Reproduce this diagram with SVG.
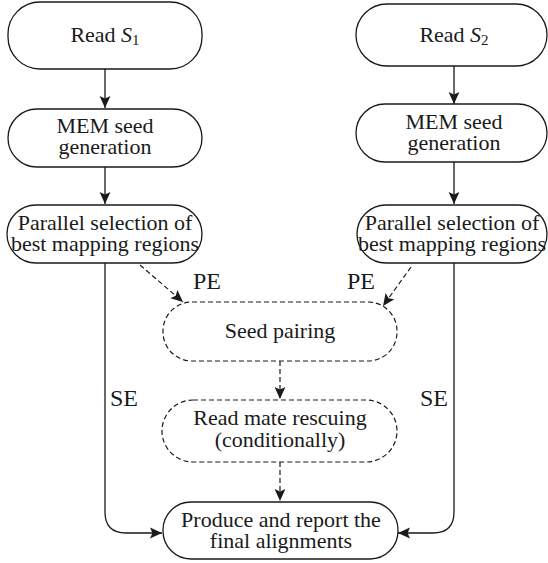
<svg xmlns="http://www.w3.org/2000/svg" width="548" height="563" viewBox="0 0 548 563">
<style>
.box{fill:#fff;stroke:#1a1a1a;stroke-width:1.3}
.dbox{fill:#fff;stroke:#1a1a1a;stroke-width:1.2;stroke-dasharray:5 3}
.t{font-family:'Liberation Serif',serif;font-size:22px;fill:#1a1a1a;text-anchor:middle}
.lbl{font-family:'Liberation Serif',serif;font-size:24px;fill:#1a1a1a}
.c{fill:none;stroke:#1a1a1a;stroke-width:1.3}
.dc{fill:none;stroke:#1a1a1a;stroke-width:1.2;stroke-dasharray:5 3}
</style>
<defs>
<marker id="ah" viewBox="0 0 10 10" refX="10" refY="5" markerWidth="12" markerHeight="12" markerUnits="userSpaceOnUse" orient="auto">
<path d="M0,0.5 L10,5 L0,9.5 L2,5 Z" fill="#1a1a1a"/>
</marker>
</defs>
<g id="connectors">
<line class="c" x1="105" y1="69" x2="105" y2="108" marker-end="url(#ah)"/>
<line class="c" x1="105" y1="167" x2="105" y2="204" marker-end="url(#ah)"/>
<line class="c" x1="454" y1="66" x2="454" y2="104" marker-end="url(#ah)"/>
<line class="c" x1="454" y1="162" x2="454" y2="204" marker-end="url(#ah)"/>
<line class="dc" x1="140" y1="265" x2="183" y2="302" marker-end="url(#ah)"/>
<line class="dc" x1="411" y1="267" x2="383" y2="306" marker-end="url(#ah)"/>
<line class="dc" x1="280" y1="361" x2="280" y2="399" marker-end="url(#ah)"/>
<line class="dc" x1="280" y1="462" x2="280" y2="501" marker-end="url(#ah)"/>
<path class="c" d="M105,263 L105,512 Q105,533 126,533 L162,533" marker-end="url(#ah)"/>
<path class="c" d="M454,263 L454,512 Q454,533 433,533 L398,533" marker-end="url(#ah)"/>
<text class="lbl" x="193" y="289">PE</text>
<text class="lbl" x="347" y="289">PE</text>
<text class="lbl" x="110" y="406">SE</text>
<text class="lbl" x="420" y="406">SE</text>
</g>
<g id="read-s1">
<rect class="box" x="8" y="2" width="194" height="67" rx="32"/>
<text class="t" x="105" y="42">Read <tspan font-style="italic">S</tspan><tspan font-size="15" dy="3">1</tspan></text>
</g>
<g id="mem1">
<rect class="box" x="8" y="109" width="194" height="58" rx="29"/>
<text class="t" x="105" y="133">MEM seed</text>
<text class="t" x="105" y="154">generation</text>
</g>
<g id="par1">
<rect class="box" x="7" y="205" width="195" height="58" rx="29"/>
<text class="t" x="105" y="230">Parallel selection of</text>
<text class="t" x="105" y="251">best mapping regions</text>
</g>
<g id="read-s2">
<rect class="box" x="356" y="4" width="191" height="62" rx="31"/>
<text class="t" x="454" y="42">Read <tspan font-style="italic">S</tspan><tspan font-size="15" dy="3">2</tspan></text>
</g>
<g id="mem2">
<rect class="box" x="356" y="104" width="191" height="58" rx="29"/>
<text class="t" x="454" y="129">MEM seed</text>
<text class="t" x="454" y="150">generation</text>
</g>
<g id="par2">
<rect class="box" x="357" y="205" width="190" height="58" rx="29"/>
<text class="t" x="452" y="230">Parallel selection of</text>
<text class="t" x="452" y="251">best mapping regions</text>
</g>
<g id="seed-pairing">
<rect class="dbox" x="163" y="302" width="234" height="59" rx="29"/>
<text class="t" x="280" y="338">Seed pairing</text>
</g>
<g id="rescue">
<rect class="dbox" x="162" y="400" width="235" height="62" rx="31"/>
<text class="t" x="280" y="425">Read mate rescuing</text>
<text class="t" x="280" y="447">(conditionally)</text>
</g>
<g id="produce">
<rect class="box" x="163" y="502" width="235" height="57" rx="28"/>
<text class="t" x="281" y="527">Produce and report the</text>
<text class="t" x="281" y="548">final alignments</text>
</g>
</svg>
